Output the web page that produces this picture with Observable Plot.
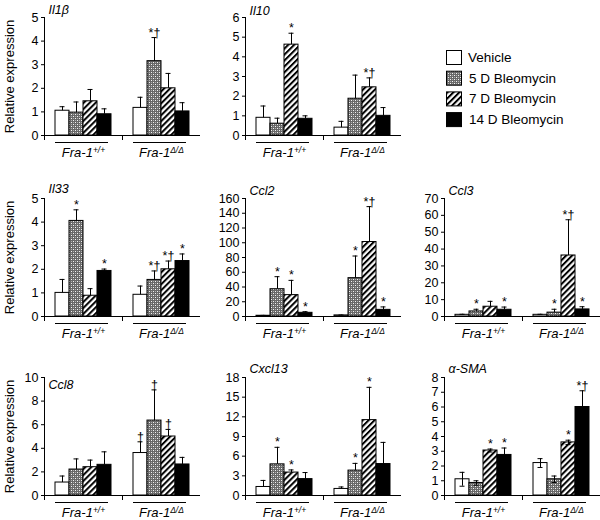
<!DOCTYPE html>
<html><head><meta charset="utf-8">
<script src="https://cdn.jsdelivr.net/npm/d3@7"></script>
<script src="https://cdn.jsdelivr.net/npm/@observablehq/plot@0.6"></script>
<style>
body{margin:0;background:#fff;}
#chart{position:relative;width:600px;height:520px;font-family:"Liberation Sans",Arial,Helvetica,sans-serif;}
#chart > svg{position:absolute;}
</style></head><body><div id="chart"></div>
<script>
// ---------- data ----------
const groups = ["Fra-1+/+", "Fra-1Δ/Δ"];
const groupBase = ["Fra-1", "Fra-1"];
const groupSup = ["+/+", "Δ/Δ"];
const treatments = ["Vehicle", "5 D Bleomycin", "7 D Bleomycin", "14 D Bleomycin"];
const genes = ["Il1β", "Il10", "Il33", "Ccl2", "Ccl3", "Ccl8", "Cxcl13", "α-SMA"];
const yMax = [5, 6, 5, 160, 70, 10, 18, 8];
const yStep = [1, 1, 1, 20, 10, 2, 3, 1];
// values in order: Fra-1+/+ (Vehicle, 5D, 7D, 14D), Fra-1Δ/Δ (Vehicle, 5D, 7D, 14D)
const means = [
  [1.05, 0.97, 1.45, 0.9, 1.17, 3.15, 2.0, 1.02],
  [0.9, 0.6, 4.62, 0.85, 0.4, 1.87, 2.45, 1.0],
  [1.0, 4.05, 0.88, 1.93, 0.92, 1.55, 2.0, 2.35],
  [1, 37, 29, 5, 1.5, 52, 101, 9],
  [1.0, 3.0, 5.8, 4.0, 1.0, 2.3, 36.2, 4.2],
  [1.1, 2.2, 2.4, 2.6, 3.6, 6.35, 5.0, 2.63],
  [1.3, 4.75, 3.5, 2.5, 1.0, 3.8, 11.5, 4.8],
  [1.1, 0.85, 3.05, 2.75, 2.2, 1.1, 3.6, 6.0]
];
const errs = [
  [0.17, 0.45, 0.5, 0.23, 0.45, 1.0, 0.63, 0.37],
  [0.6, 0.28, 0.58, 0.15, 0.32, 1.2, 0.48, 0.42],
  [0.57, 0.47, 0.3, 0.08, 0.37, 0.38, 0.35, 0.3],
  [0.5, 17, 20, 1.5, 0.5, 30, 48, 4],
  [0.3, 1.3, 3.2, 1.6, 0.3, 2.0, 21.2, 1.6],
  [0.55, 0.9, 0.6, 1.1, 0.95, 2.6, 0.6, 0.6],
  [1.0, 2.6, 0.4, 1.0, 0.3, 1.1, 5.0, 3.3],
  [0.47, 0.15, 0.1, 0.47, 0.3, 0.22, 0.15, 1.1]
];
const sigs = [
  ["", "", "", "", "", "*†", "", ""],
  ["", "", "*", "", "", "", "*†", ""],
  ["", "*", "", "*", "", "*†", "*†", "*"],
  ["", "*", "*", "*", "", "*", "*†", "*"],
  ["", "*", "", "*", "", "*", "*†", "*"],
  ["", "", "", "", "†", "†", "†", ""],
  ["", "*", "*", "", "", "*", "*", ""],
  ["", "", "*", "*", "", "", "*", "*†"]
];
const bothSides = [false, false, false, false, false, false, false, true];
const yLabel = "Relative expression";

// ---------- layout ----------
const cell = [[0,0],[0,1],[1,0],[1,1],[1,2],[2,0],[2,1],[2,2]];
const colLeft = [0, 200, 400];
const colMargin = [43, 44, 43];
const rowTop = [0, 181, 360];
const titleDy = [-4, -3, -6, -4, -4, 11, -5, -5];
const plotW = 157, plotH = 118, mTop = 17, mBottom = 25;
const font = '"Liberation Sans", Arial, Helvetica, sans-serif';

const fills = ["#fff", "url(#pDots)", "url(#pStripes)", "#000"];

const chart = document.getElementById("chart");

// pattern defs
const defs = d3.select(chart).append("svg").attr("width", 0).attr("height", 0)
  .style("position", "absolute").style("left", "0px").style("top", "0px").append("defs");
const pd = defs.append("pattern").attr("id", "pDots").attr("patternUnits", "userSpaceOnUse")
  .attr("width", 4).attr("height", 4);
pd.append("rect").attr("width", 4).attr("height", 4).attr("fill", "#686868");
pd.append("rect").attr("x", 0).attr("y", 0).attr("width", 1).attr("height", 1).attr("fill", "#f4f4f4");
pd.append("rect").attr("x", 2).attr("y", 2).attr("width", 1).attr("height", 1).attr("fill", "#f4f4f4");
pd.append("rect").attr("x", 2).attr("y", 0).attr("width", 1).attr("height", 1).attr("fill", "#b0b0b0");
pd.append("rect").attr("x", 0).attr("y", 2).attr("width", 1).attr("height", 1).attr("fill", "#b0b0b0");
const ps = defs.append("pattern").attr("id", "pStripes").attr("patternUnits", "userSpaceOnUse")
  .attr("width", 4.2).attr("height", 4.2).attr("patternTransform", "rotate(45)");
ps.append("rect").attr("width", 4.2).attr("height", 4.2).attr("fill", "#fff");
ps.append("rect").attr("width", 2).attr("height", 4.2).attr("fill", "#000");

function panel(k) {
  const [r, c] = cell[k];
  const ml = colMargin[c];
  const rows = groups.flatMap((g, gi) => treatments.map((t, ti) => {
    const j = gi * 4 + ti;
    return {group: g, treatment: t, fill: fills[ti], mean: means[k][j], err: errs[k][j], sig: sigs[k][j]};
  }));
  const both = bothSides[k];
  const ticks = d3.range(0, yMax[k] + yStep[k] / 2, yStep[k]);
  const marks = [
    Plot.barY(rows, {fx: "group", x: "treatment", y: "mean", fill: "fill", stroke: "#000", strokeWidth: 1}),
    Plot.ruleX(rows, {fx: "group", x: "treatment", y1: d => both ? d.mean - d.err : d.mean, y2: d => d.mean + d.err, stroke: "#000", strokeWidth: 1}),
    Plot.tickY(rows, {fx: "group", x: "treatment", y: d => d.mean + d.err, insetLeft: 4.5, insetRight: 4.5, stroke: "#000", strokeWidth: 1}),
    both ? Plot.tickY(rows, {fx: "group", x: "treatment", y: d => d.mean - d.err, insetLeft: 4.5, insetRight: 4.5, stroke: "#000", strokeWidth: 1}) : null,
    Plot.text(rows.filter(d => d.sig), {fx: "group", x: "treatment", y: d => d.mean + d.err, text: "sig", lineAnchor: "bottom", dy: -1, fontSize: 12.5, fill: "#000"}),
    Plot.ruleY([0], {stroke: "#000", strokeWidth: 1}),
    Plot.frame({anchor: "left", fx: groups[0], insetBottom: -4, stroke: "#000", strokeWidth: 1}),
    Plot.frame({anchor: "left", fx: groups[1], insetTop: plotH, insetBottom: -4, stroke: "#000", strokeWidth: 1}),
    Plot.ruleY(groups.map(g => ({group: g})), {fx: "group", y: () => 0, x1: () => treatments[0], x2: () => treatments[3], insetRight: 3, dy: 7, stroke: "#000", strokeWidth: 1}),
    Plot.axisY({ticks, tickFormat: d => String(d), tickSize: 3, tickPadding: 3, label: null, fontSize: 12.5, fill: "#000"}),
    Plot.axisFx({anchor: "bottom", tickSize: 0, tickPadding: 12, label: null, fontSize: 13, fontStyle: "italic", fill: "#000"}),
    Plot.text([{group: groups[0]}], {fx: "group", text: () => genes[k], frameAnchor: "top-left", textAnchor: "start", lineAnchor: "bottom", dx: 4, dy: titleDy[k], fontSize: 12.5, fontStyle: "italic", fill: "#000"}),
    c === 0 ? Plot.text([{group: groups[0]}], {fx: "group", text: () => yLabel, frameAnchor: "left", rotate: -90, textAnchor: "middle", lineAnchor: "middle", dx: -35, fontSize: 13, fill: "#000"}) : null
  ];
  const svg = Plot.plot({
    width: ml + plotW, height: mTop + plotH + mBottom,
    marginLeft: ml, marginRight: 0, marginTop: mTop, marginBottom: mBottom,
    style: {fontFamily: font, fontSize: "12px", color: "#000", background: "transparent", overflow: "visible"},
    fx: {domain: groups, padding: 0, label: null},
    x: {domain: treatments, paddingInner: 0, paddingOuter: 0.72, axis: null},
    y: {domain: [0, yMax[k]], label: null},
    color: {type: "identity"},
    marks
  });
  svg.style.left = colLeft[c] + "px";
  svg.style.top = rowTop[r] + "px";
  // superscripts for genotype labels
  svg.querySelectorAll('[aria-label="fx-axis tick label"] text').forEach(t => {
    const gi = groups.indexOf(t.textContent);
    if (gi < 0) return;
    t.textContent = "";
    const ns = "http://www.w3.org/2000/svg";
    const a = document.createElementNS(ns, "tspan"); a.textContent = groupBase[gi]; t.appendChild(a);
    const b = document.createElementNS(ns, "tspan"); b.textContent = groupSup[gi];
    b.setAttribute("dy", "-0.45em"); b.setAttribute("font-size", "8.5"); t.appendChild(b);
  });
  chart.appendChild(svg);
}
genes.forEach((g, k) => panel(k));

// legend
const leg = d3.select(chart).append("svg").attr("width", 160).attr("height", 100)
  .style("left", "440px").style("top", "45px")
  .style("font-family", font);
treatments.forEach((t, i) => {
  const gy = 5 + i * 20.7;
  leg.append("rect").attr("x", 6.5).attr("y", gy + 0.5).attr("width", 15).attr("height", 14)
    .attr("fill", fills[i]).attr("stroke", "#000");
  leg.append("text").attr("x", i === 0 ? 28 : 29).attr("y", gy + 12).attr("font-size", 13.5).text(t);
});
</script></body></html>
